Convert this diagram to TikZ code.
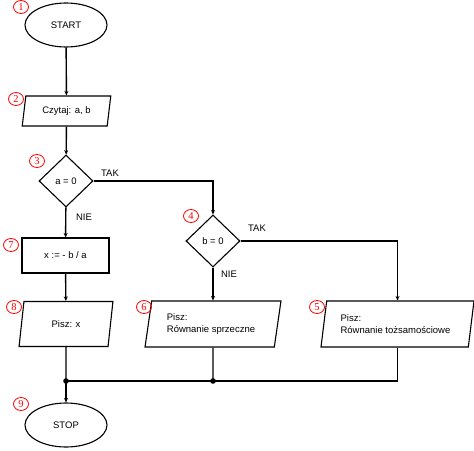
\documentclass[tikz,border=0pt]{standalone}
\usepackage{fontspec}
\setmainfont{Liberation Sans}
\newfontfamily\numfont{Liberation Serif}
\usetikzlibrary{shapes.geometric,arrows.meta}

\tikzset{
  terminal/.style={draw,ellipse,minimum width=82pt,minimum height=44pt,inner sep=0pt},
  iobox/.style={draw,trapezium,trapezium left angle=76.5,trapezium right angle=103.5,
    trapezium stretches=true,inner sep=0pt},
  procbox/.style={draw,rectangle,minimum width=87pt,minimum height=35pt},
  decision/.style={draw,diamond,minimum width=54pt,minimum height=52pt,inner sep=0pt},
  stepno/.style={draw=red,text=red,ellipse,line width=0.8pt,minimum width=15pt,minimum height=13pt,
    inner sep=0pt,font=\numfont\fontsize{10.5}{10.5}\selectfont},
  flow/.style={line width=1.4pt,-{Stealth[length=4.5pt,width=4pt]}},
  link/.style={line width=1.4pt},
  answer/.style={font=\fontsize{9.5}{11}\selectfont}
}

\begin{document}
\begin{tikzpicture}[x=1pt,y=-1pt,line width=1.1pt,font=\fontsize{9.5}{12}\selectfont]
\useasboundingbox (0,0) rectangle (474,450);
% blocks
\node[terminal] (start) at (66,25) {START};
\node[iobox,minimum width=89pt,minimum height=30pt] (read) at (66.5,111) {Czytaj: a, b};
\node[decision] (ifa) at (66,181) {a = 0};
\node[decision] (ifb) at (213,241) {b = 0};
\node[procbox] (calc) at (65.5,255.5) {x := - b / a};
\node[iobox,minimum width=94pt,minimum height=45pt] (outx) at (66,324) {Pisz: x};
\node[iobox,minimum width=136pt,minimum height=46pt,align=left] (contra) at (213,324)
  {Pisz:\\Równanie sprzeczne\hspace*{4pt}};
\node[iobox,minimum width=153pt,minimum height=46pt,align=left] (ident) at (397.5,324)
  {Pisz:\\Równanie tożsamościowe\hspace*{4pt}};
\node[terminal] (stop) at (66,425) {STOP};
% step numbers
\node[stepno] (n1) at (21,7) {1};
\node[stepno] (n2) at (16,99) {2};
\node[stepno] (n3) at (37,161) {3};
\node[stepno] (n4) at (191,216) {4};
\node[stepno] (n5) at (317,307) {5};
\node[stepno] (n6) at (144,307) {6};
\node[stepno] (n7) at (11,245) {7};
\node[stepno] (n8) at (14,307) {8};
\node[stepno] (n9) at (21,404) {9};
% answers
\node[answer] (yesa) at (110,173) {TAK};
\node[answer] (noa) at (84,217) {NIE};
\node[answer] (yesb) at (257,228) {TAK};
\node[answer] (nob) at (229,274) {NIE};
% connectors
\coordinate (j1) at (66,381);
\coordinate (j2) at (213,381);
\draw[flow] (start) -- (read);
\draw[flow] (read) -- (ifa);
\draw[flow] (ifa.east) -| (ifb.north);
\draw[flow] (ifa) -- (calc);
\draw[flow] (calc) -- (outx);
\draw[flow] (ifb) -- (contra);
\draw[flow] (ifb.east) -| (ident.north);
\draw[link] (outx.south) -- (j1);
\draw[link] (contra.south) -- (j2);
\draw[link] (ident.south) |- (j1);
\draw[flow] (j1) -- (stop);
\fill (j1) circle (2.8pt) (j2) circle (2.8pt);
\end{tikzpicture}
\end{document}
